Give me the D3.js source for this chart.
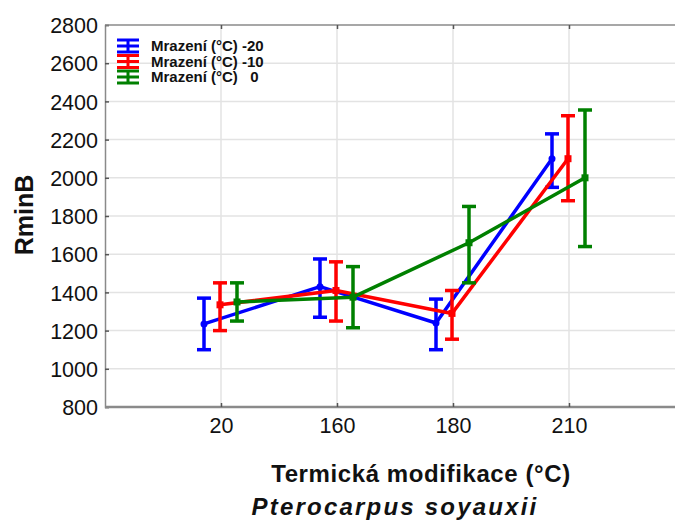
<!DOCTYPE html>
<html>
<head>
<meta charset="utf-8">
<script src="https://cdn.jsdelivr.net/npm/d3@7"></script>
<style>
body { margin: 0; background: #fff; }
svg { display: block; font-family: Arial, "Liberation Sans", sans-serif; }
</style>
</head>
<body>
<svg id="chart" width="675" height="520"></svg>
<script>
// data
var categories = ["20", "160", "180", "210"];
var seriesNames = ["Mrazení (°C) -20", "Mrazení (°C) -10", "Mrazení (°C)   0"];
var blueMean = [1235, 1430, 1240, 2100];
var blueLo   = [1100, 1270, 1100, 1950];
var blueHi   = [1370, 1575, 1365, 2230];
var redMean  = [1335, 1410, 1290, 2100];
var redLo    = [1200, 1250, 1155, 1880];
var redHi    = [1450, 1560, 1410, 2325];
var greenMean = [1350, 1375, 1660, 2000];
var greenLo   = [1250, 1215, 1450, 1640];
var greenHi   = [1450, 1535, 1850, 2355];
var yTicks = [800, 1000, 1200, 1400, 1600, 1800, 2000, 2200, 2400, 2600, 2800];

var series = [
  { name: seriesNames[0], color: "#0000ff", mean: blueMean, lo: blueLo, hi: blueHi, dx: -17, marker: "circle" },
  { name: seriesNames[1], color: "#ff0000", mean: redMean, lo: redLo, hi: redHi, dx: -1, marker: "square" },
  { name: seriesNames[2], color: "#008000", mean: greenMean, lo: greenLo, hi: greenHi, dx: 16, marker: "square" }
];

var svg = d3.select("#chart"),
    pLeft = 105, pRight = 685, pTop = 25, pBottom = 407;

var x = d3.scalePoint().domain(categories).range([pLeft, pRight]).padding(1),
    y = d3.scaleLinear().domain([800, 2800]).range([pBottom, pTop]);

// grid
var grid = svg.append("g");
grid.selectAll("line.h").data(yTicks.slice(1, -1)).enter().append("line")
  .attr("x1", pLeft).attr("x2", 675)
  .attr("y1", function(d){ return y(d); }).attr("y2", function(d){ return y(d); })
  .attr("stroke", "#e3e3e3").attr("stroke-width", 1.5);
grid.selectAll("line.v").data(categories).enter().append("line")
  .attr("x1", function(d){ return x(d); }).attr("x2", function(d){ return x(d); })
  .attr("y1", pTop).attr("y2", pBottom)
  .attr("stroke", "#e3e3e3").attr("stroke-width", 1.5);

// axes
var yAxis = svg.append("g").attr("transform", "translate(" + pLeft + ",0)")
  .call(d3.axisLeft(y).tickValues(yTicks).tickSize(-4).tickPadding(7).tickFormat(d3.format("d")));
var xAxis = svg.append("g").attr("transform", "translate(0," + pBottom + ")")
  .call(d3.axisBottom(x).tickSize(-4).tickPadding(11));
var topAxis = svg.append("g").attr("transform", "translate(0," + pTop + ")")
  .call(d3.axisTop(x).tickSize(-4).tickFormat(""));
[yAxis, xAxis, topAxis].forEach(function(a){
  a.select(".domain").attr("stroke", "#8a8a8a").attr("stroke-width", 1.5);
  a.selectAll(".tick line").attr("stroke", "#555").attr("stroke-width", 1.5);
  a.selectAll("text").attr("font-size", 21.5).attr("fill", "#111")
    .attr("font-family", "Arial, 'Liberation Sans', sans-serif");
});
xAxis.select(".domain").attr("stroke-width", 2.5).attr("d", "M" + pLeft + ",0H675");
topAxis.select(".domain").attr("d", "M" + pLeft + ",0H675");
yAxis.selectAll("text").attr("dy", "0.36em");

// series
var line = d3.line();
series.forEach(function(s){
  var g = svg.append("g");
  var pts = categories.map(function(c, i){ return [x(c) + s.dx, y(s.mean[i])]; });
  g.append("path").attr("d", line(pts)).attr("fill", "none")
    .attr("stroke", s.color).attr("stroke-width", 3.5).attr("stroke-linejoin", "round");
  categories.forEach(function(c, i){
    var cx = x(c) + s.dx;
    g.append("line").attr("x1", cx).attr("x2", cx)
      .attr("y1", y(s.lo[i])).attr("y2", y(s.hi[i]))
      .attr("stroke", s.color).attr("stroke-width", 3.5);
    [s.lo[i], s.hi[i]].forEach(function(v){
      g.append("line").attr("x1", cx - 7).attr("x2", cx + 7)
        .attr("y1", y(v)).attr("y2", y(v))
        .attr("stroke", s.color).attr("stroke-width", 3.5);
    });
    if (s.marker == "circle") {
      g.append("circle").attr("cx", cx).attr("cy", y(s.mean[i])).attr("r", 3.5).attr("fill", s.color);
    } else {
      g.append("rect").attr("x", cx - 3.5).attr("y", y(s.mean[i]) - 3.5)
        .attr("width", 7).attr("height", 7).attr("fill", s.color);
    }
  });
});

// legend
var legend = svg.append("g");
series.forEach(function(s, i){
  var ly = 46 + i * 15.5, lx = 128;
  var lg = legend.append("g").attr("stroke", s.color).attr("stroke-width", 3);
  lg.append("line").attr("x1", lx).attr("x2", lx).attr("y1", ly - 6).attr("y2", ly + 6);
  [-6, 0, 6].forEach(function(o){
    lg.append("line").attr("x1", lx - 11).attr("x2", lx + 11).attr("y1", ly + o).attr("y2", ly + o);
  });
  legend.append("text").attr("x", 151).attr("y", ly + 5)
    .attr("font-size", 15).attr("font-weight", "bold").attr("fill", "#111")
    .style("white-space", "pre").text(s.name);
});

// titles
svg.append("text").attr("transform", "translate(33,215) rotate(-90)")
  .attr("text-anchor", "middle").attr("font-size", 25).attr("font-weight", "bold")
  .attr("fill", "#111").text("RminB");
svg.append("text").attr("x", 421).attr("y", 482)
  .attr("text-anchor", "middle").attr("font-size", 24).attr("font-weight", "bold")
  .attr("letter-spacing", 0.6)
  .attr("fill", "#111").text("Termická modifikace (°C)");
svg.append("text").attr("x", 395).attr("y", 515)
  .attr("text-anchor", "middle").attr("font-size", 24).attr("font-weight", "bold")
  .attr("font-style", "italic").attr("letter-spacing", 2.2)
  .attr("fill", "#111").text("Pterocarpus soyauxii");
</script>
</body>
</html>
